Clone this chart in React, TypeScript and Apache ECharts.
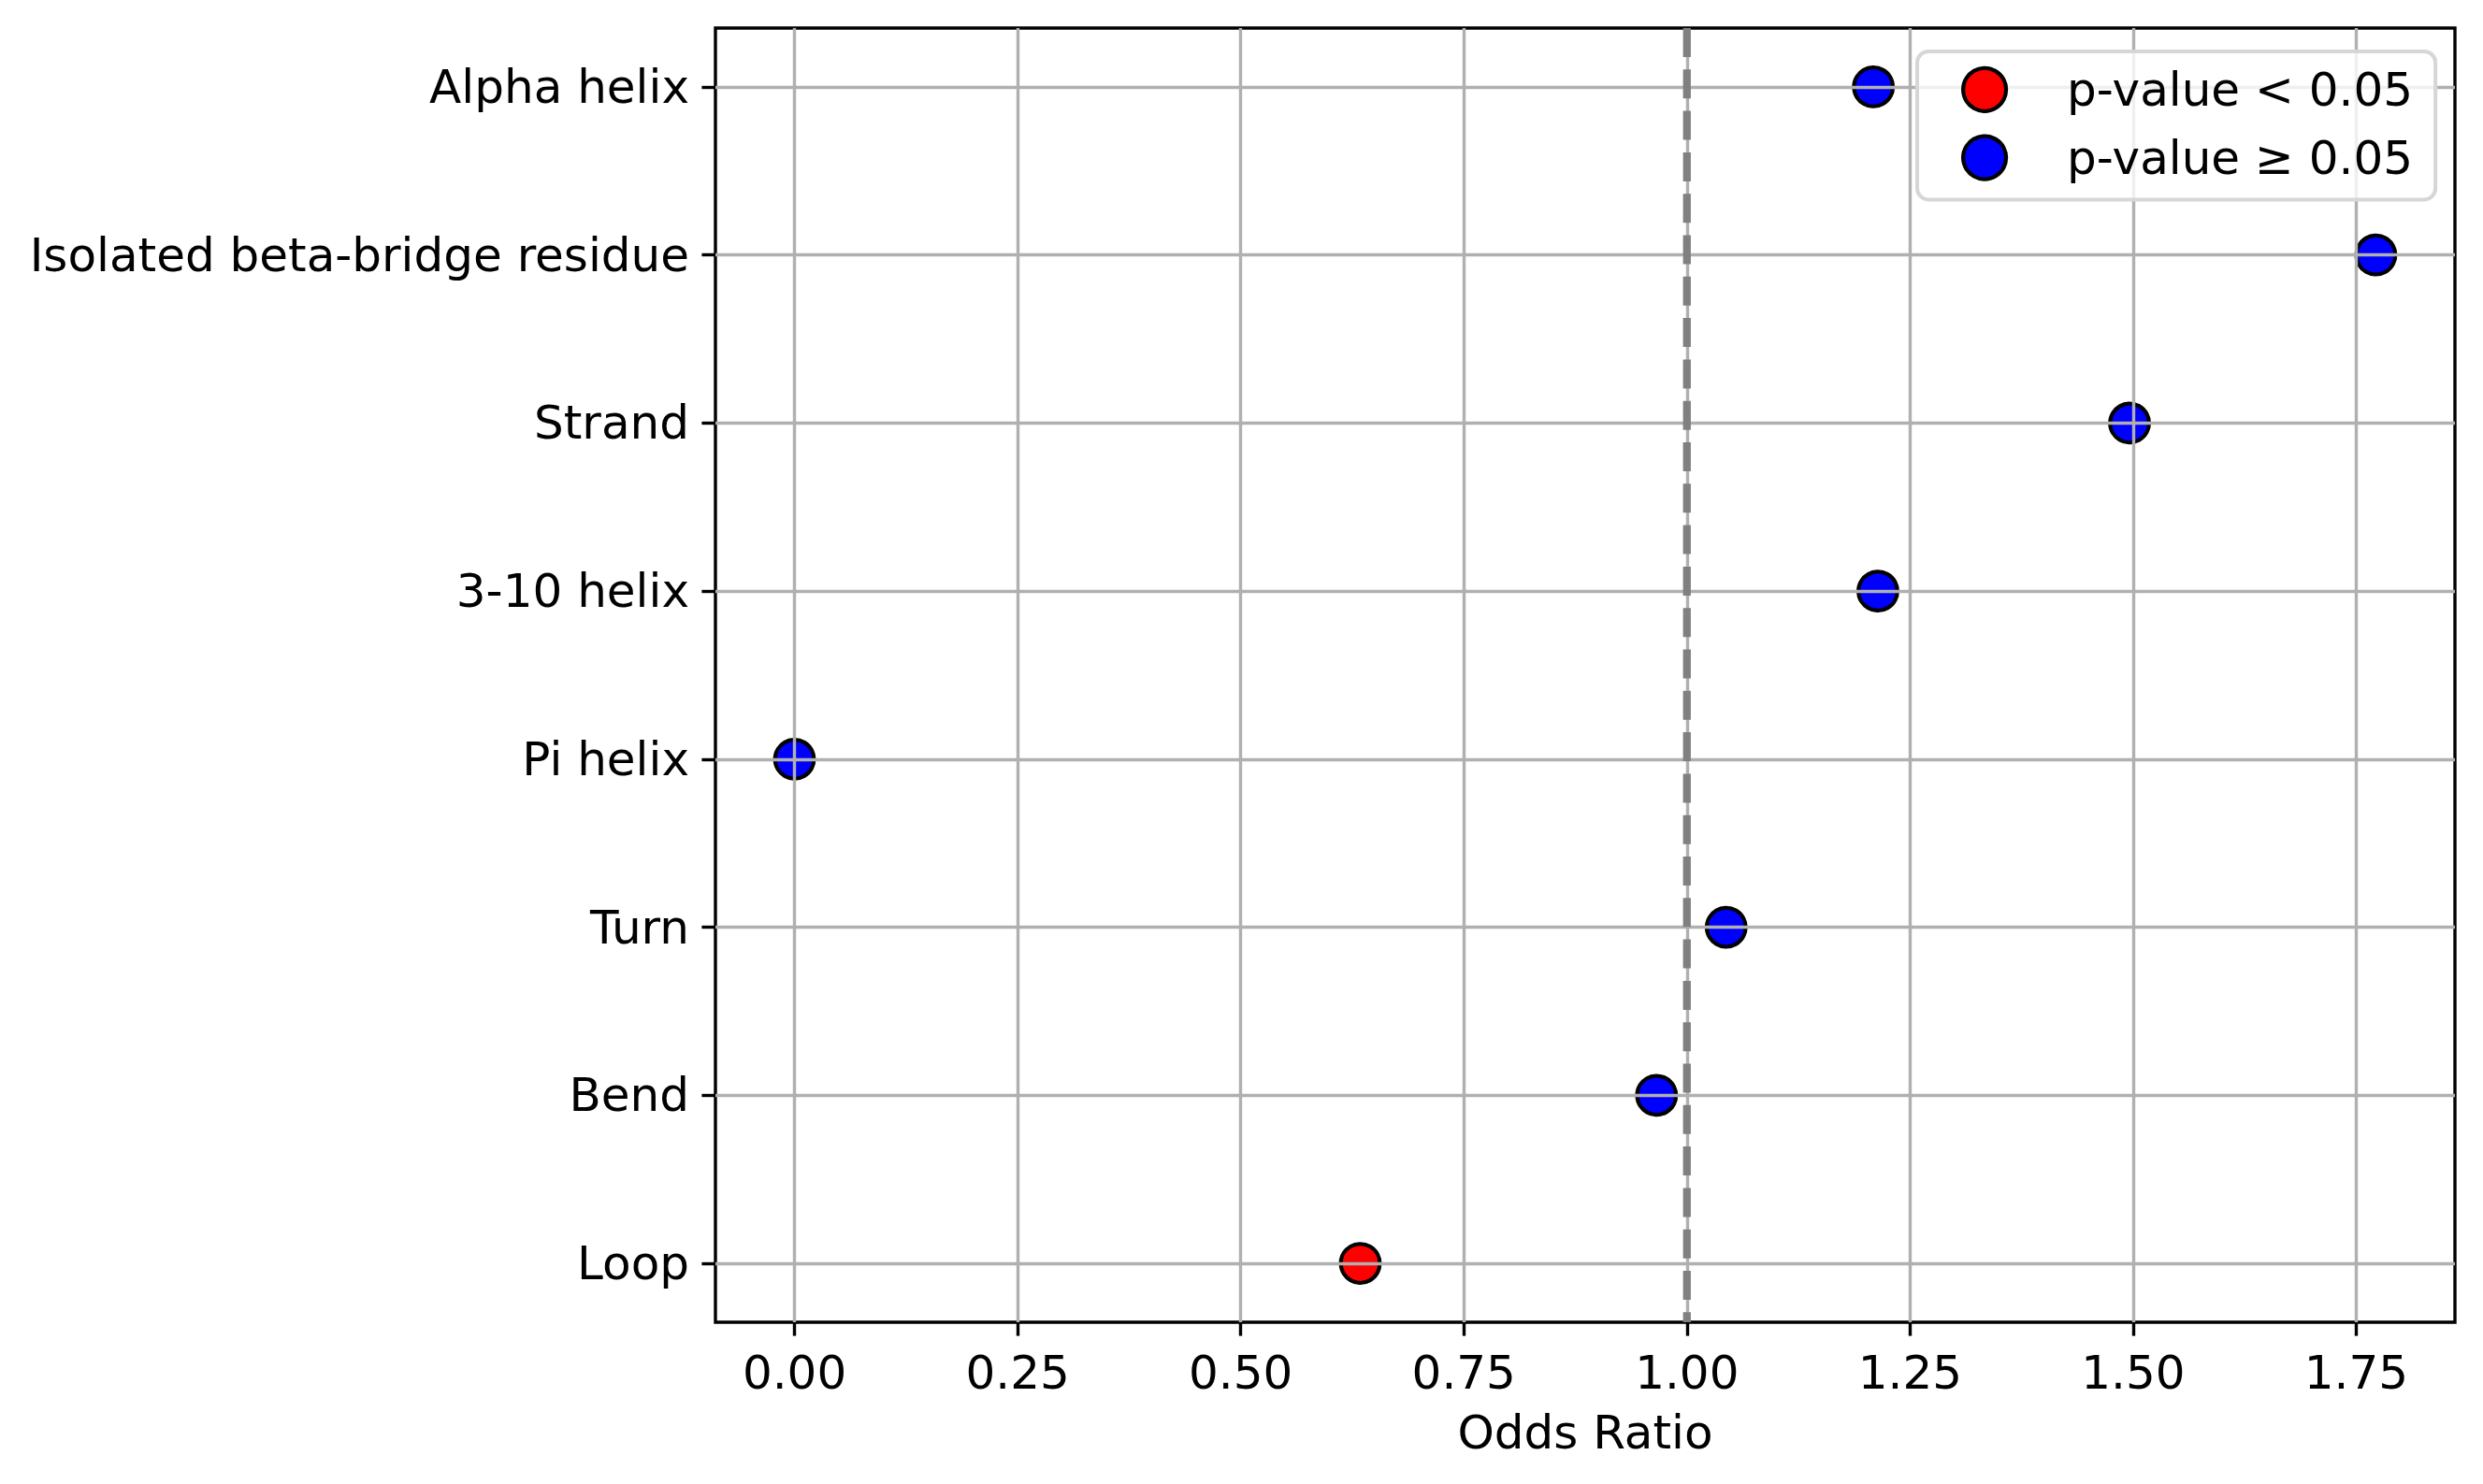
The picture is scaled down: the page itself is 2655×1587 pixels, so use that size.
import React, { useEffect, useRef } from "react";
import * as echarts from "echarts";

const categories = [
  "Alpha helix",
  "Isolated beta-bridge residue",
  "Strand",
  "3-10 helix",
  "Pi helix",
  "Turn",
  "Bend",
  "Loop",
];
const oddsRatios = [1.209, 1.772, 1.496, 1.214, 0.0, 1.044, 0.966, 0.634];
const pValueSignificant = [false, false, false, false, false, false, false, true];
const xTicks = [0, 0.25, 0.5, 0.75, 1.0, 1.25, 1.5, 1.75];
const referenceLine = 1.0;
const legendNames = ["p-value < 0.05", "p-value \u2265 0.05"];

const FONT = "DejaVu Sans";

export default function App() {
  const ref = useRef<HTMLDivElement>(null);
  useEffect(() => {
    if (!ref.current) return;
    const chart = echarts.init(ref.current, null, { renderer: "svg" });
    const maxV = Math.max(...oddsRatios);
    const minV = Math.min(...oddsRatios);
    const span = maxV - minV;
    const xMin = minV - 0.05 * span;
    const xMax = maxV + 0.05 * span;
    const yIdx = categories.map((_, i) => i);
    const sigData: number[][] = [];
    const nsData: number[][] = [];
    oddsRatios.forEach((v, i) => {
      (pValueSignificant[i] ? sigData : nsData).push([v, i]);
    });
    const markerStyle = (color: string) => ({
      color,
      borderColor: "#000000",
      borderWidth: 4.2,
      opacity: 1,
    });
    chart.setOption({
      animation: false,
      backgroundColor: "#ffffff",
      textStyle: { fontFamily: FONT },
      grid: {
        left: 765,
        top: 30,
        right: 30,
        bottom: 173,
        show: true,
        borderColor: "#000000",
        borderWidth: 3.4,
        containLabel: false,
      },
      xAxis: {
        type: "value",
        min: xMin,
        max: xMax,
        z: 3,
        name: "Odds Ratio",
        nameLocation: "middle",
        nameGap: 93,
        nameTextStyle: { fontFamily: FONT, fontSize: 50, color: "#000000", verticalAlign: "top" },
        axisLine: { show: false, onZero: false },
        axisTick: {
          show: true,
          customValues: xTicks,
          length: 14.6,
          lineStyle: { color: "#000000", width: 3.4 },
        },
        axisLabel: {
          customValues: xTicks,
          margin: 29,
          fontFamily: FONT,
          fontSize: 50,
          color: "#000000",
          formatter: (v: number) => v.toFixed(2),
        },
        splitLine: { show: true, lineStyle: { color: "#b0b0b0", width: 3.4 } },
      },
      yAxis: {
        type: "value",
        min: -0.35,
        max: categories.length - 1 + 0.35,
        inverse: true,
        z: 3,
        axisLine: { show: false, onZero: false },
        axisTick: {
          show: true,
          customValues: yIdx,
          length: 14.6,
          lineStyle: { color: "#000000", width: 3.4 },
        },
        axisLabel: {
          customValues: yIdx,
          margin: 28,
          fontFamily: FONT,
          fontSize: 50,
          color: "#000000",
          formatter: (v: number) => categories[Math.round(v)] ?? "",
        },
        splitLine: { show: true, lineStyle: { color: "#b0b0b0", width: 3.4 } },
      },
      legend: {
        show: true,
        left: 2050,
        top: 55,
        orient: "vertical",
        data: legendNames,
        icon: "circle",
        itemWidth: 46,
        itemHeight: 46,
        itemGap: 22.6,
        padding: [15.7, 24, 19.7, 47],
        backgroundColor: "rgba(255,255,255,0.8)",
        borderColor: "#d6d6d6",
        borderWidth: 4,
        borderRadius: 12,
        itemStyle: { borderColor: "#000000", borderWidth: 4.2 },
        textStyle: {
          fontFamily: FONT,
          fontSize: 50,
          color: "#000000",
          padding: [0, 0, 0, 60],
        },
        selectedMode: false,
        z: 10,
      },
      series: [
        {
          name: legendNames[0],
          type: "scatter",
          data: sigData,
          symbol: "circle",
          symbolSize: 41.7,
          itemStyle: markerStyle("#ff0000"),
          z: 1,
        },
        {
          name: legendNames[1],
          type: "scatter",
          data: nsData,
          symbol: "circle",
          symbolSize: 41.7,
          itemStyle: markerStyle("#0000ff"),
          z: 1,
        },
        {
          name: "ref",
          type: "line",
          data: [
            [referenceLine, -0.35],
            [referenceLine, categories.length - 1 + 0.35],
          ],
          symbol: "none",
          silent: true,
          lineStyle: { color: "#808080", width: 8.3, type: [31, 13.3] },
          z: 5,
        },
      ],
    });
    return () => chart.dispose();
  }, []);
  return (
    <div
      ref={ref}
      style={{ position: "absolute", left: 0, top: 0, width: 2655, height: 1587 }}
    />
  );
}
